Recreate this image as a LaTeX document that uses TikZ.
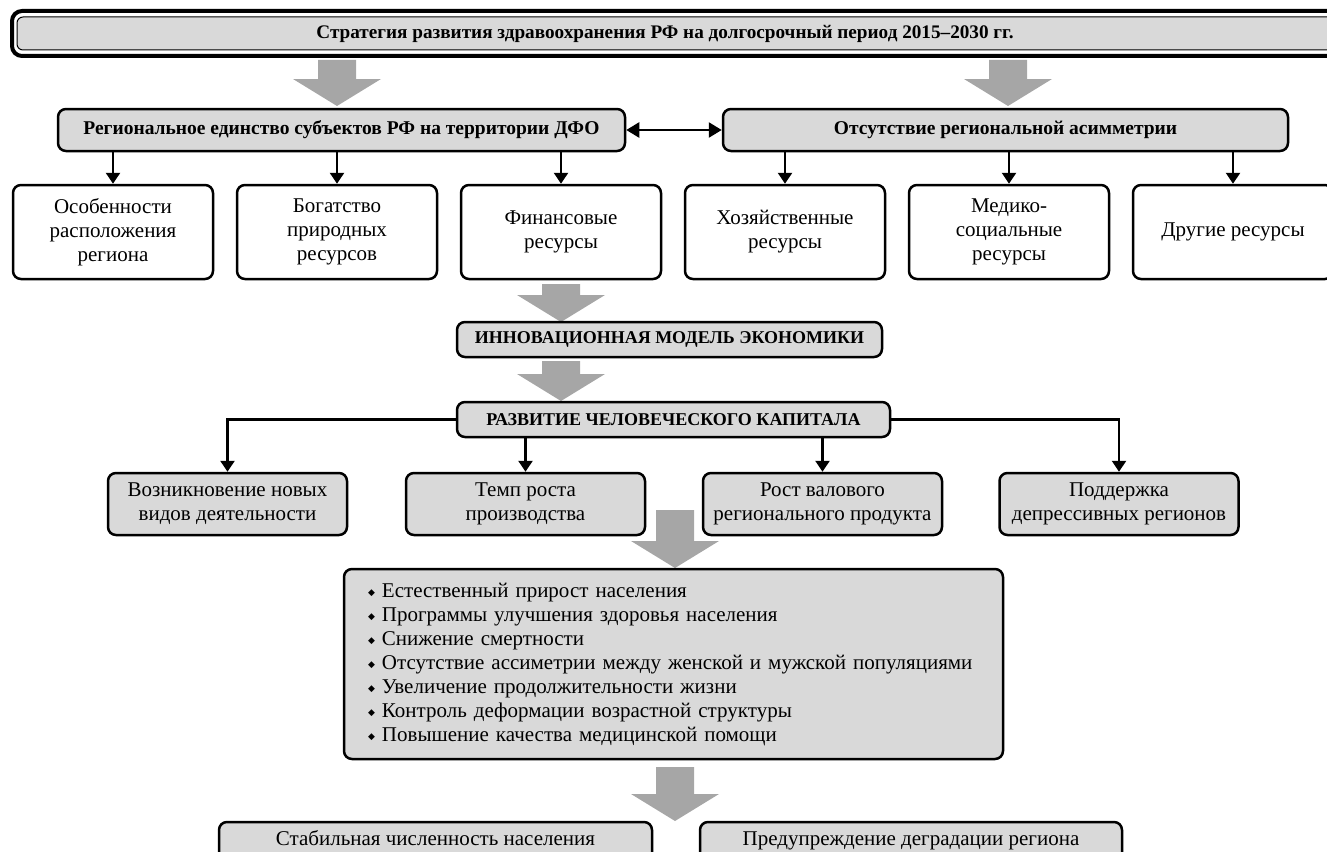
\documentclass[tikz,border=0pt]{standalone}
\usepackage{fontspec}
\setmainfont{Liberation Serif}
\newfontfamily\symfont{DejaVu Sans}
\usetikzlibrary{arrows.meta,positioning}
\definecolor{boxgray}{HTML}{D9D9D9}
\definecolor{arrowgray}{HTML}{A6A6A6}
\tikzset{
  resbox/.style={draw, line width=2.5pt, rounded corners=8pt, fill=white, align=center,
    font=\fontsize{21}{24}\selectfont, minimum width=200pt, minimum height=94pt, inner sep=0pt},
  graybox/.style={draw, line width=2.5pt, rounded corners=8pt, fill=boxgray, align=center,
    font=\fontsize{21}{24}\selectfont, inner sep=0pt},
  headbox/.style={graybox, font=\bfseries\fontsize{19.5}{22}\selectfont},
  capsbox/.style={graybox, font=\bfseries\fontsize{18}{22}\selectfont},
  link/.style={line width=2.5pt, -{Triangle[width=14pt,length=11pt]}},
}
% big gray arrow: x, top, tip
\newcommand{\grayarrow}[3]{%
  \fill[arrowgray] (#1-19,#2) -- (#1+19,#2) -- (#1+19,#3-27) -- (#1+44,#3-27)
    -- (#1,#3) -- (#1-44,#3-27) -- (#1-19,#3-27) -- cycle;}
\newcommand{\bul}{{\symfont\fontsize{9}{9}\selectfont\raisebox{1.5pt}{◆}}\ }
\newcommand{\upper}[1]{\raisebox{7pt}[0pt][0pt]{#1}}

\begin{document}
\begin{tikzpicture}[x=1pt,y=-1pt]
  \useasboundingbox (0,0) rectangle (1327,851);
  % title bar
  \draw[line width=4pt, rounded corners=10pt, fill=white] (12,11) rectangle (1360,56);
  \draw[line width=1pt, rounded corners=6pt, fill=boxgray] (17,17) rectangle (1355,50);
  \node[font=\bfseries\fontsize{19.2}{22}\selectfont] (strat) at (665,34)
    {Стратегия развития здравоохранения РФ на долгосрочный период 2015–2030 гг.};
  % gray arrows
  \grayarrow{337}{60}{106}
  \grayarrow{1008}{60}{106}
  \grayarrow{561}{284}{322}
  \grayarrow{561}{361}{401}
  \grayarrow{675}{510}{568}
  \grayarrow{675}{767}{821}
  % second row
  \node[headbox, minimum width=567pt, minimum height=42pt] (reg) at (341.5,130)
    {Региональное единство субъектов РФ на территории ДФО};
  \node[headbox, minimum width=565pt, minimum height=42pt] (asym) at (1005.5,130)
    {Отсутствие региональной асимметрии};
  \draw[line width=2.5pt, {Triangle[width=15pt,length=13pt]}-{Triangle[width=15pt,length=13pt]}]
    (reg.east) -- (asym.west);
  % resources
  \node[resbox] (r1) at (113,232) {Особенности\\расположения\\региона};
  \node[resbox] (r2) at (337,232) {Богатство\\природных\\ресурсов};
  \node[resbox] (r3) at (561,232) {Финансовые\\ресурсы};
  \node[resbox] (r4) at (785,232) {Хозяйственные\\ресурсы};
  \node[resbox] (r5) at (1009,232) {Медико-\\социальные\\ресурсы};
  \node[resbox] (r6) at (1233,232) {Другие ресурсы};
  \foreach \n in {r1,r2,r3}
    \draw[link] (\n |- reg.south) -- (\n.north);
  \foreach \n in {r4,r5,r6}
    \draw[link] (\n |- asym.south) -- (\n.north);
  % model
  \node[capsbox, minimum width=425pt, minimum height=35pt] (innov) at (669.5,339.5)
    {ИННОВАЦИОННАЯ МОДЕЛЬ ЭКОНОМИКИ};
  \node[capsbox, minimum width=433pt, minimum height=35pt] (razv) at (673.5,419.5)
    {РАЗВИТИЕ ЧЕЛОВЕЧЕСКОГО КАПИТАЛА};
  % results
  \node[graybox, minimum width=239pt, minimum height=62pt] (v1) at (227.5,504)
    {Возникновение новых\\видов деятельности};
  \node[graybox, minimum width=239pt, minimum height=62pt] (v2) at (525.5,504)
    {Темп роста\\производства};
  \node[graybox, minimum width=239pt, minimum height=62pt] (v3) at (822.5,504)
    {Рост валового\\регионального продукта};
  \node[graybox, minimum width=239pt, minimum height=62pt] (v4) at (1119,504)
    {Поддержка\\депрессивных регионов};
  \draw[link] (razv.west) -| (v1.north);
  \draw[link] (razv.east) -| (v4.north);
  \draw[link] (v2 |- razv.south) -- (v2.north);
  \draw[link] (v3 |- razv.south) -- (v3.north);
  % goals
  \node[graybox, text width=611pt, inner xsep=24pt, minimum height=190pt, align=left] (goals)
    at (673.5,664) {\bul Естественный прирост населения\\
    \bul Программы улучшения здоровья населения\\
    \bul Снижение смертности\\
    \bul Отсутствие ассиметрии между женской и мужской популяциями\\
    \bul Увеличение продолжительности жизни\\
    \bul Контроль деформации возрастной структуры\\
    \bul Повышение качества медицинской помощи};
  % bottom
  \node[graybox, minimum width=433pt, minimum height=60pt] (stab) at (435.5,852)
    {\upper{Стабильная численность населения}};
  \node[graybox, minimum width=422pt, minimum height=60pt] (pred) at (911,852)
    {\upper{Предупреждение деградации региона}};
\end{tikzpicture}
\end{document}
